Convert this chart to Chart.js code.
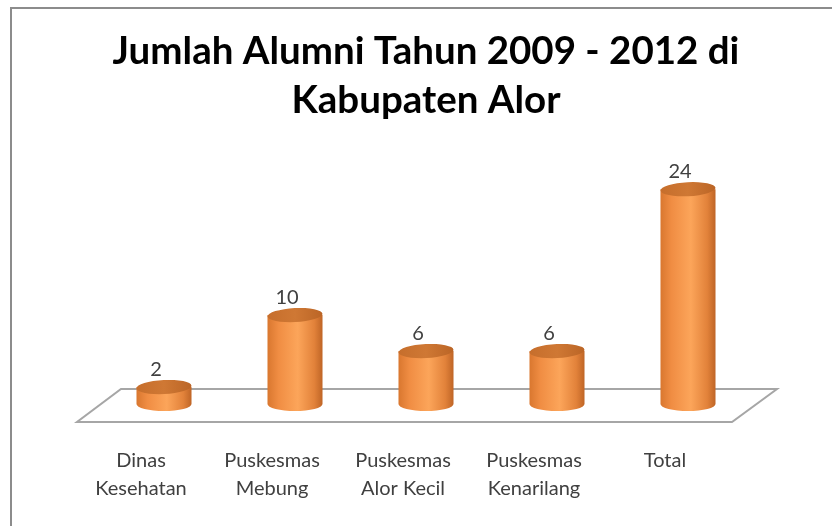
<!DOCTYPE html>
<html>
<head>
<meta charset="utf-8">
<script src="https://cdn.jsdelivr.net/npm/chart.js@4"></script>
<style>
  html, body { margin: 0; padding: 0; background: #fff; }
  #wrap { width: 832px; height: 526px; }
</style>
</head>
<body>
<div id="wrap"><canvas id="chart" width="832" height="526"></canvas></div>
<script>
/* ---------- DATA ---------- */
const categories = [
  ["Dinas", "Kesehatan"],
  ["Puskesmas", "Mebung"],
  ["Puskesmas", "Alor Kecil"],
  ["Puskesmas", "Kenarilang"],
  "Total"
];
const alumni = [2, 10, 6, 6, 24];
const titleLines = ["Jumlah Alumni Tahun 2009 - 2012 di", "Kabupaten Alor"];

/* ---------- FRAME + FLOOR ---------- */
const floorPlugin = {
  id: "floor",
  beforeDraw(chart) {
    const ctx = chart.ctx;
    ctx.save();
    ctx.fillStyle = "#fff";
    ctx.fillRect(0, 0, chart.width, chart.height);
    ctx.strokeStyle = "#8c8c8c";
    ctx.lineWidth = 2;
    ctx.strokeRect(11, 8, 900, 600);
    ctx.restore();
  },
  beforeDatasetsDraw(chart) {
    const ctx = chart.ctx;
    const a = chart.chartArea;
    const y0 = chart.scales.y.getPixelForValue(0);
    ctx.save();
    ctx.beginPath();
    ctx.moveTo(a.left - 21.5, y0 + 17);
    ctx.lineTo(a.right - 21.5, y0 + 17);
    ctx.lineTo(a.right + 23.5, y0 - 16);
    ctx.lineTo(a.left + 22.5, y0 - 16);
    ctx.closePath();
    ctx.fillStyle = "#fff";
    ctx.fill();
    ctx.strokeStyle = "#a6a6a6";
    ctx.lineWidth = 2;
    ctx.stroke();
    ctx.restore();
  }
};

/* ---------- CYLINDERS ---------- */
const cylinderPlugin = {
  id: "cylinders",
  afterDatasetsDraw(chart) {
    const ctx = chart.ctx;
    const y0 = chart.scales.y.getPixelForValue(0);
    const meta = chart.getDatasetMeta(0);
    meta.data.forEach((bar, i) => {
      const rx = bar.width / 2;
      const ry = 7;
      const cx = bar.x;
      const top = bar.y;
      const bottom = y0 - 1;

      ctx.save();
      const g = ctx.createLinearGradient(cx - rx, 0, cx + rx, 0);
      g.addColorStop(0, "#d9772f");
      g.addColorStop(0.2, "#f08d43");
      g.addColorStop(0.55, "#fca55a");
      g.addColorStop(0.85, "#e2823a");
      g.addColorStop(1, "#bf6526");
      ctx.beginPath();
      ctx.moveTo(cx - rx, top);
      ctx.lineTo(cx - rx, bottom);
      ctx.ellipse(cx, bottom, rx, ry, 0, Math.PI, 0, true);
      ctx.lineTo(cx + rx, top);
      ctx.closePath();
      ctx.fillStyle = g;
      ctx.fill();

      // top cap
      ctx.beginPath();
      ctx.ellipse(cx, top, rx, ry, -0.05, 0, Math.PI * 2);
      const g2 = ctx.createLinearGradient(cx - rx, 0, cx + rx, 0);
      g2.addColorStop(0, "#c66e2c");
      g2.addColorStop(0.5, "#cf7834");
      g2.addColorStop(1, "#bb6526");
      ctx.fillStyle = g2;
      ctx.fill();

      // value label
      ctx.fillStyle = "#404040";
      ctx.font = "20px Lato";
      ctx.textAlign = "center";
      ctx.textBaseline = "alphabetic";
      ctx.fillText(String(alumni[i]), cx - 8, top - ry - 4);
      ctx.restore();
    });
  }
};

/* ---------- CHART ---------- */
new Chart(document.getElementById("chart"), {
  type: "bar",
  data: {
    labels: categories,
    datasets: [{
      label: "Alumni",
      data: alumni,
      backgroundColor: "rgba(0,0,0,0)",
      borderWidth: 0,
      barPercentage: 0.42,
      categoryPercentage: 1
    }]
  },
  options: {
    responsive: false,
    animation: false,
    layout: { padding: { left: 98.5, right: 78.5, top: 0, bottom: 0 } },
    plugins: {
      legend: { display: false },
      tooltip: { enabled: false },
      title: {
        display: true,
        text: titleLines,
        color: "#000",
        font: { family: "Lato", size: 38.5, weight: "bold", lineHeight: 1.25 },
        padding: { top: 28, bottom: 11 }
      }
    },
    scales: {
      x: {
        grid: { display: false },
        border: { display: false },
        ticks: {
          color: "#404040",
          font: { family: "Lato", size: 20, lineHeight: 1.4 },
          padding: 34,
          labelOffset: -23,
          maxRotation: 0,
          autoSkip: false
        },
        afterFit(scale) { scale.height = 121; }
      },
      y: {
        display: false,
        min: 0,
        max: 30
      }
    }
  },
  plugins: [floorPlugin, cylinderPlugin]
});
</script>
</body>
</html>
